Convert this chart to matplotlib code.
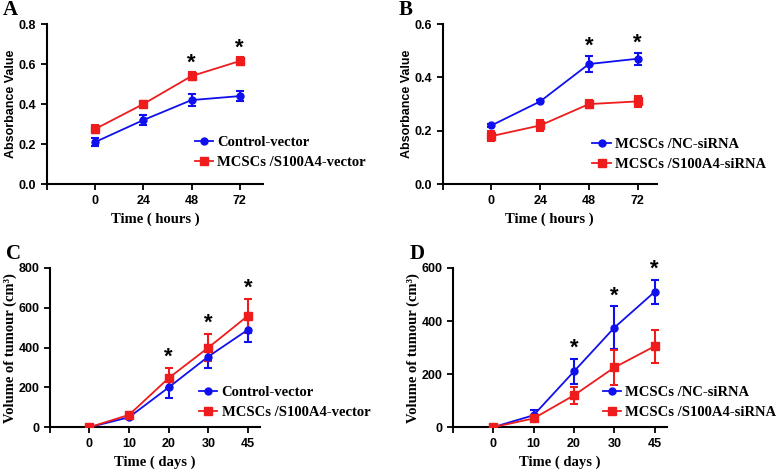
import numpy as np
import matplotlib
matplotlib.use("Agg")
import matplotlib.pyplot as plt
from matplotlib.lines import Line2D

# panel A / B : absorbance
hours = ['0', '24', '48', '72']
a_ctrl = [0.21, 0.32, 0.42, 0.44]
a_ctrl_err = [0.02, 0.025, 0.03, 0.025]
a_s100 = [0.275, 0.40, 0.54, 0.615]
a_s100_err = [0.02, 0.015, 0.018, 0.02]
a_star = [2, 3]

b_nc = [0.22, 0.31, 0.45, 0.47]
b_nc_err = [0.005, 0.005, 0.03, 0.022]
b_si = [0.18, 0.22, 0.30, 0.31]
b_si_err = [0.02, 0.02, 0.015, 0.02]
b_star = [2, 3]

# panel C / D : tumour volume
days = ['0', '10', '20', '30', '45']
c_ctrl = [0, 50, 200, 355, 490]
c_ctrl_err = [0, 8, 54, 58, 60]
c_s100 = [0, 62, 247, 400, 560]
c_s100_err = [0, 12, 50, 68, 85]
c_star = [2, 3, 4]

d_nc = [0, 45, 210, 375, 510]
d_nc_err = [0, 20, 47, 80, 45]
d_si = [0, 33, 120, 225, 305]
d_si_err = [0, 10, 32, 65, 62]
d_star = [2, 3, 4]

BLUE = '#1010ee'
RED = '#ee1c1c'
SANS = 'Liberation Sans'
SERIF = 'Liberation Serif'

fig = plt.figure(figsize=(7.78, 4.71), dpi=100)


def panel(rect, letter, labels, blue, blue_err, red, red_err, blue_lab, red_lab,
          ymax, ystep, yfmt, ylabel, yfont, xlabel, stars, xright, star_off, leg_xy):
    ax = fig.add_axes(rect)
    x = np.arange(len(labels))
    ax.errorbar(x, blue, yerr=blue_err, color=BLUE, marker='o', ms=5, lw=1.3,
                capsize=3, capthick=1.5, elinewidth=1.5, zorder=3)
    ax.errorbar(x, red, yerr=red_err, color=RED, marker='s', ms=6, lw=1.3,
                capsize=3, capthick=1.5, elinewidth=1.5, zorder=3)
    for i in stars:
        top = max(blue[i] + blue_err[i], red[i] + red_err[i])
        ax.text(i, top + star_off, '*', ha='center', va='center',
                fontsize=16, fontweight='bold', family=SANS)
    ax.set_xlim(-1.0, xright)
    ax.set_ylim(0, ymax)
    ax.set_xticks([-1] + list(x))
    ax.set_xticklabels([''] + labels)
    yt = np.arange(0, ymax + ystep / 2, ystep)
    ax.set_yticks(yt)
    ax.set_yticklabels([yfmt.format(v) for v in yt])
    for s in ['top', 'right']:
        ax.spines[s].set_visible(False)
    for s in ['left', 'bottom']:
        ax.spines[s].set_linewidth(1.5)
    ax.tick_params(width=1.3, length=4, labelsize=9)
    for t in ax.get_xticklabels() + ax.get_yticklabels():
        t.set_fontweight('bold')
        t.set_family(SANS)
    ax.set_ylabel(ylabel, fontweight='bold', labelpad=1, **yfont)
    ax.set_xlabel(xlabel, fontsize=10.5, fontweight='bold', family=SERIF, labelpad=4)
    handles = [Line2D([], [], color=BLUE, marker='o', ms=5, lw=1.3),
               Line2D([], [], color=RED, marker='s', ms=6, lw=1.3)]
    ax.legend(handles, [blue_lab, red_lab], loc='upper left', bbox_to_anchor=leg_xy,
              frameon=False, prop={'family': SERIF, 'weight': 'bold', 'size': 10.5},
              handlelength=1.25, handletextpad=0.3, labelspacing=0.45,
              borderpad=0, borderaxespad=0)
    fig.text(rect[0] - 0.056, rect[1] + rect[3] + 0.008, letter, fontsize=15,
             fontweight='bold', family=SERIF, va='bottom', ha='left')
    return ax


abs_font = {'family': SANS, 'fontsize': 9}
vol_font = {'family': SERIF, 'fontsize': 10.5}

panel([0.060, 0.609, 0.278, 0.340], 'A', hours, a_ctrl, a_ctrl_err, a_s100, a_s100_err,
      'Control-vector', 'MCSCs /S100A4-vector', 0.8, 0.2, '{:.1f}',
      'Absorbance Value', abs_font, 'Time ( hours )', a_star, 3.48, 0.045, (0.685, 0.30))
panel([0.569, 0.609, 0.275, 0.340], 'B', hours, b_nc, b_nc_err, b_si, b_si_err,
      'MCSCs /NC-siRNA', 'MCSCs /S100A4-siRNA', 0.6, 0.2, '{:.1f}',
      'Absorbance Value', abs_font, 'Time ( hours )', b_star, 3.39, 0.035, (0.70, 0.29))
panel([0.064, 0.093, 0.270, 0.338], 'C', days, c_ctrl, c_ctrl_err, c_s100, c_s100_err,
      'Control-vector', 'MCSCs /S100A4-vector', 800, 200, '{:.0f}',
      'Volume of tumour (cm³)', vol_font, 'Time ( days )', c_star, 4.3, 55, (0.71, 0.26))
panel([0.582, 0.093, 0.275, 0.338], 'D', days, d_nc, d_nc_err, d_si, d_si_err,
      'MCSCs /NC-siRNA', 'MCSCs /S100A4-siRNA', 600, 200, '{:.0f}',
      'Volume of tumour (cm³)', vol_font, 'Time ( days )', d_star, 4.3, 40, (0.70, 0.26))

fig.savefig('out.png', dpi=100)
